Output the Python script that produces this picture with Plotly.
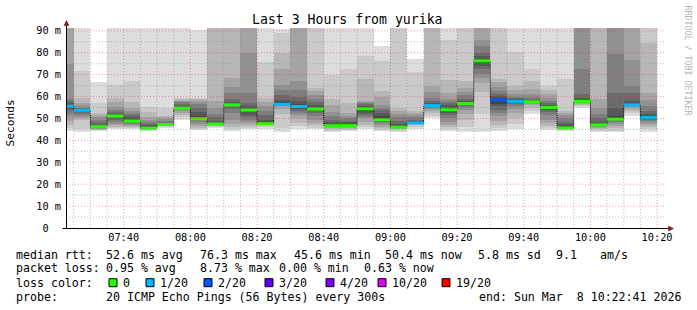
import plotly.graph_objects as go
import pandas as pd

DAY = "2026-03-08"
RANGE_START = "07:22:41"
RANGE_END = "10:22:41"

# start time of each 5-minute smoke bar
bar_start = ["07:20", "07:25", "07:30", "07:35", "07:40", "07:45", "07:50", "07:55",
             "08:00", "08:05", "08:10", "08:15", "08:20", "08:25", "08:30", "08:35",
             "08:40", "08:45", "08:50", "08:55", "09:00", "09:05", "09:10", "09:15",
             "09:20", "09:25", "09:30", "09:35", "09:40", "09:45", "09:50", "09:55",
             "10:00", "10:05", "10:10", "10:15"]

# 20 sorted ping round-trip times (ms) per bar
pings = [
    [44.5, 45.5, 47.0, 49.0, 50.5, 52.0, 53.5, 54.5, 55.2, 55.5, 55.7, 56.2, 57.0, 58.0, 59.0, 75.0, 95, 100, 105, 115],
    [44.0, 45.0, 49.5, 50.3, 50.8, 51.5, 52.3, 52.8, 53.3, 53.6, 53.8, 54.0, 54.3, 54.6, 55.0, 56.0, 57.2, 59.4, 71.6, 95],
    [44.3, 44.6, 44.9, 45.2, 45.4, 45.6, 45.8, 45.9, 46.0, 46.1, 46.3, 46.6, 47.2, 48.2, 49.5, 50.5, 51.5, 52.6, 57.2, 66.5],
    [45.3, 45.8, 46.3, 46.8, 47.3, 48.5, 49.5, 50.2, 50.7, 51.0, 51.2, 51.6, 52.2, 53.0, 54.0, 55.3, 57.5, 59.4, 65.4, 95],
    [45.0, 45.5, 46.0, 46.5, 47.0, 47.5, 48.0, 48.3, 48.6, 48.7, 48.9, 49.5, 50.5, 51.5, 52.5, 53.5, 55.0, 57.3, 67.0, 94],
    [44.3, 44.6, 44.9, 45.1, 45.2, 45.3, 45.4, 45.5, 45.55, 45.6, 45.65, 46.0, 46.8, 47.5, 48.3, 49.2, 50.5, 53.0, 55.3, 93],
    [45.8, 46.1, 46.4, 46.7, 46.9, 47.0, 47.1, 47.2, 47.25, 47.3, 47.35, 47.6, 48.0, 48.5, 49.0, 49.8, 50.5, 51.1, 54.6, 92],
    [49.5, 50.5, 51.5, 52.5, 53.2, 53.8, 54.2, 54.4, 54.6, 54.65, 54.75, 55.0, 55.5, 56.5, 57.3, 57.8, 58.2, 58.7, 59.2, 92],
    [44.8, 45.3, 45.8, 46.5, 47.5, 48.5, 49.2, 49.6, 49.8, 49.85, 49.95, 51.0, 53.0, 55.0, 56.5, 57.5, 58.3, 59.0, 59.5, 90.5],
    [45.5, 46.0, 46.5, 46.8, 47.0, 47.1, 47.15, 47.2, 47.25, 47.3, 47.35, 48.0, 49.0, 50.5, 52.0, 55.0, 58.0, 95, 100, 110],
    [44.5, 45.0, 46.0, 47.5, 49.5, 52.5, 54.5, 55.5, 56.0, 56.1, 56.3, 56.8, 57.5, 58.7, 61.5, 64.5, 68.6, 95, 105, 115],
    [45.0, 45.8, 46.5, 47.5, 48.5, 49.5, 50.5, 51.5, 53.0, 53.7, 53.9, 54.5, 55.5, 57.0, 61.7, 80.0, 95, 100, 105, 115],
    [45.0, 46.0, 46.8, 47.2, 47.4, 47.5, 47.55, 47.6, 47.6, 47.6, 47.65, 48.5, 49.5, 51.5, 53.5, 55.5, 57.5, 59.3, 76.0, 95],
    [44.0, 45.5, 52.0, 54.5, 55.5, 56.0, 56.2, 56.3, 56.4, 56.45, 56.55, 57.5, 58.5, 60.5, 63.0, 65.5, 72.5, 80.0, 89.0, 91.0],
    [45.0, 46.5, 48.0, 50.0, 51.5, 52.5, 53.5, 54.5, 55.2, 55.4, 55.6, 56.5, 58.0, 60.0, 63.0, 67.0, 95, 100, 105, 115],
    [45.0, 45.8, 46.8, 48.0, 49.5, 51.0, 52.5, 53.5, 54.0, 54.2, 54.4, 55.0, 56.0, 57.5, 59.0, 60.5, 62.5, 64.0, 95, 105],
    [44.0, 44.5, 45.0, 45.5, 46.0, 46.3, 46.5, 46.6, 46.65, 46.7, 46.75, 47.5, 48.5, 49.5, 51.0, 53.0, 56.0, 59.0, 70.0, 94],
    [44.3, 44.8, 45.3, 45.7, 46.0, 46.2, 46.4, 46.5, 46.6, 46.65, 46.75, 47.5, 48.3, 49.0, 50.0, 51.0, 52.5, 57.0, 72.4, 95],
    [45.0, 46.0, 47.0, 48.5, 50.0, 50.8, 51.5, 52.5, 53.5, 54.3, 54.6, 55.2, 55.8, 56.4, 57.0, 57.5, 57.9, 67.8, 78.4, 95],
    [44.2, 44.8, 45.5, 46.3, 47.0, 47.8, 48.5, 48.9, 49.1, 49.3, 49.5, 51.0, 52.5, 54.0, 55.0, 56.0, 60.0, 62.5, 76.1, 83.0],
    [44.0, 44.5, 45.0, 45.3, 45.6, 45.8, 45.9, 45.95, 46.0, 46.0, 46.05, 46.5, 47.5, 49.0, 50.5, 52.0, 53.5, 55.0, 95, 105],
    [45.0, 46.0, 47.0, 47.4, 47.6, 47.8, 47.9, 47.95, 48.0, 48.0, 48.05, 48.5, 49.0, 49.5, 50.5, 51.5, 52.5, 53.5, 71.0, 77.0],
    [50.0, 51.0, 52.5, 53.5, 54.5, 55.0, 55.4, 55.7, 55.9, 56.0, 56.2, 56.5, 57.0, 58.0, 59.5, 62.0, 64.7, 95, 105, 115],
    [44.3, 45.0, 46.0, 47.0, 48.5, 50.0, 51.5, 52.5, 53.3, 53.8, 54.2, 55.0, 56.0, 57.0, 58.0, 59.0, 61.5, 67.5, 86.0, 95],
    [44.0, 46.0, 49.5, 52.0, 54.0, 55.0, 55.8, 56.3, 56.6, 56.7, 56.9, 57.3, 58.0, 59.0, 60.5, 62.0, 64.0, 67.2, 95, 105],
    [44.0, 52.0, 62.0, 66.0, 68.5, 70.5, 72.5, 74.0, 75.2, 75.8, 76.2, 77.0, 78.5, 80.0, 83.0, 86.0, 95, 100, 105, 115],
    [44.5, 45.5, 47.0, 49.0, 51.0, 52.5, 54.0, 55.5, 56.8, 57.8, 58.8, 59.5, 60.3, 61.0, 62.5, 64.5, 66.5, 68.0, 95, 105],
    [45.0, 47.5, 50.0, 52.5, 54.5, 55.8, 56.6, 57.1, 57.5, 57.7, 57.9, 58.3, 58.8, 59.3, 60.0, 61.0, 63.0, 65.0, 80.5, 95],
    [52.0, 53.5, 55.0, 56.0, 56.8, 57.2, 57.4, 57.5, 57.55, 57.6, 57.65, 57.9, 58.3, 59.0, 60.0, 61.0, 63.5, 67.0, 72.5, 95],
    [44.8, 45.5, 46.5, 48.0, 49.5, 51.5, 53.0, 54.0, 54.6, 54.9, 55.1, 55.6, 56.3, 57.2, 58.2, 59.5, 61.0, 63.0, 64.7, 95],
    [44.3, 44.7, 45.0, 45.3, 45.5, 45.6, 45.65, 45.7, 45.7, 45.7, 45.75, 46.5, 47.5, 48.5, 50.0, 51.5, 52.5, 53.3, 67.8, 95],
    [55.0, 55.6, 56.2, 56.8, 57.2, 57.5, 57.6, 57.7, 57.75, 57.8, 57.85, 58.5, 59.3, 61.0, 72.6, 95, 100, 105, 110, 120],
    [44.0, 44.5, 45.2, 45.8, 46.3, 46.7, 46.9, 47.0, 47.05, 47.1, 47.15, 47.8, 48.5, 50.0, 52.0, 55.0, 58.7, 95, 105, 115],
    [44.0, 44.5, 45.5, 46.5, 47.5, 48.3, 48.8, 49.2, 49.5, 49.65, 49.75, 51.0, 55.0, 61.5, 79.5, 95, 100, 105, 110, 120],
    [51.0, 52.5, 53.5, 54.5, 55.2, 55.6, 55.9, 56.0, 56.1, 56.15, 56.25, 56.8, 58.0, 61.7, 65.0, 76.9, 95, 100, 105, 115],
    [44.0, 45.0, 46.0, 47.0, 48.0, 48.8, 49.4, 49.8, 50.1, 50.2, 50.4, 51.0, 52.0, 53.5, 55.5, 58.5, 61.5, 84.5, 95, 105],
]

# median rtt (ms) per bar
medians = [55.6, 53.7, 46.2, 51.1, 48.8, 45.6, 47.3, 54.7, 49.9, 47.5, 56.2, 53.8,
           47.6, 56.5, 55.5, 54.3, 46.7, 46.7, 54.4, 49.4, 46.0, 48.0, 55.9, 54.0,
           56.8, 76.3, 58.5, 57.8, 57.6, 55.0, 45.7, 57.8, 47.1, 49.7, 56.2, 50.4]

# lost pings (of 20) per bar
loss = [1, 1, 0, 0, 0, 0, 0, 0, 0, 0, 0, 0, 0, 1, 1, 0, 0, 0, 0, 0, 0, 1, 1, 0,
        0, 0, 2, 1, 0, 0, 0, 0, 0, 0, 1, 1]

loss_levels = [0, 1, 2, 3, 4, 10, 19]
loss_labels = ["0", "1/20", "2/20", "3/20", "4/20", "10/20", "19/20"]
loss_colors = ["#26ff00", "#00b8ff", "#0059ff", "#5e00ff", "#7e00ff", "#dd00ff", "#ff0000"]

x_tick_labels = ["07:40", "08:00", "08:20", "08:40", "09:00", "09:20", "09:40", "10:00", "10:20"]
y_tick_values = [0, 10, 20, 30, 40, 50, 60, 70, 80, 90]
y_tick_labels = [" 0  ", "10 m", "20 m", "30 m", "40 m", "50 m", "60 m", "70 m", "80 m", "90 m"]

title = "Last 3 Hours from yurika"
rtt_stats = ["52.6 ms avg", "76.3 ms max", "45.6 ms min", "50.4 ms now", "5.8 ms sd", "9.1", "am/s"]
loss_stats = ["0.95 % avg", "8.73 % max", "0.00 % min", "0.63 % now"]
probe_text = "20 ICMP Echo Pings (56 Bytes) every 300s"
end_text = "end: Sun Mar  8 10:22:41 2026"

# ---------------- layout geometry ----------------
W, H = 697, 310
L, R, T, B = 66, 31, 28, 82
PW, PH = W - L - R, H - T - B
YMAX = 91.3
MONO = "DejaVu Sans Mono"


def px(x):
    return (x - L) / PW


def py(y):
    return (H - B - y) / PH


def nb(s):
    return s.replace(" ", "\u00a0")


starts = pd.to_datetime([f"{DAY} {t}" for t in bar_start])
step = pd.Timedelta(minutes=5)
centers = starts + step / 2
ends = starts + step

fig = go.Figure()

# smoke: layer k spans ping[k] .. ping[19-k], darker toward the middle
for k in range(10):
    g = 221 - 19 * k
    lo = [p[k] for p in pings]
    hi = [p[19 - k] for p in pings]
    fig.add_trace(go.Bar(
        x=centers, base=lo, y=[h - l for h, l in zip(hi, lo)],
        width=300000, marker=dict(color=f"rgb({g},{g},{g})", line=dict(width=0)),
        hoverinfo="skip", showlegend=False))

# median step line (black, visible at transitions)
fig.add_trace(go.Scatter(
    x=list(starts) + [ends[-1]], y=medians + [medians[-1]], mode="lines",
    line=dict(color="black", width=1, shape="hv", dash="1px,1px"),
    hoverinfo="skip", showlegend=False))


def loss_color(n):
    c = loss_colors[0]
    for lv, col in zip(loss_levels, loss_colors):
        if n >= lv:
            c = col
    return c


for col in loss_colors:
    xs, ys = [], []
    for s, e, m, n in zip(starts, ends, medians, loss):
        if loss_color(n) == col:
            xs += [s, e, None]
            ys += [m, m, None]
    if xs:
        fig.add_trace(go.Scatter(x=xs, y=ys, mode="lines",
                                 line=dict(color=col, width=3),
                                 hoverinfo="skip", showlegend=False))

shapes = []
MINOR = "rgba(140,140,140,0.55)"
MAJOR = "rgba(230,40,40,0.45)"
for t in pd.date_range(f"{DAY} 07:25", f"{DAY} 10:20", freq="5min"):
    major = t.minute % 20 == 0
    shapes.append(dict(type="line", xref="x", yref="paper", x0=t, x1=t, y0=0, y1=1,
                       line=dict(color=MAJOR if major else MINOR, width=1, dash="1px,2px"),
                       layer="above"))
for v in range(5, 91, 5):
    major = v % 10 == 0
    shapes.append(dict(type="line", xref="paper", yref="y", x0=0, x1=1, y0=v, y1=v,
                       line=dict(color=MAJOR if major else MINOR, width=1, dash="1px,2px"),
                       layer="above"))

# axis lines and arrows
shapes.append(dict(type="line", xref="paper", yref="paper", x0=px(66.5), x1=px(66.5),
                   y0=py(228.5), y1=py(24), line=dict(color="black", width=1), layer="above"))
shapes.append(dict(type="line", xref="paper", yref="paper", x0=px(62.5), x1=px(670),
                   y0=py(228.5), y1=py(228.5), line=dict(color="black", width=1), layer="above"))
ARROW = "#7f1f1f"
shapes.append(dict(type="path", xref="paper", yref="paper",
                   path=f"M {px(64)} {py(25.5)} L {px(69)} {py(25.5)} L {px(66.5)} {py(20.5)} Z",
                   fillcolor=ARROW, line=dict(color=ARROW, width=0.5), layer="above"))
shapes.append(dict(type="path", xref="paper", yref="paper",
                   path=f"M {px(668.5)} {py(226)} L {px(668.5)} {py(231)} L {px(673.5)} {py(228.5)} Z",
                   fillcolor=ARROW, line=dict(color=ARROW, width=0.5), layer="above"))

annotations = []


def text(x, y, s, size=11.6, anchor="left", color="black", angle=0, family=MONO):
    annotations.append(dict(x=px(x), y=py(y), xref="paper", yref="paper", text=nb(s),
                            showarrow=False, xanchor=anchor, yanchor="middle",
                            font=dict(family=family, size=size, color=color),
                            textangle=angle, borderpad=0, borderwidth=0))


text(347.8, 19.3, title, size=13.2, anchor="center")
text(9.5, 123, "Seconds", size=11.2, anchor="center", angle=-90)
text(687.5, 60, "RRDTOOL / TOBI OETIKER", size=8.3, anchor="center", color="#b4b4b4", angle=90)

# legend rows
text(15.5, 255, "median rtt:")
for s, x in zip(rtt_stats, [106.3, 200, 294, 385.3, 477.5, 556, 599.5]):
    text(x, 255, s)
text(15.5, 268.3, "packet loss:")
for s, x in zip(loss_stats, [106.3, 200, 279, 364]):
    text(x, 268.3, s)
text(15.5, 282.7, "loss color:")
for lab, col, bx in zip(loss_labels, loss_colors, [109, 146, 204, 265, 326, 378, 442]):
    shapes.append(dict(type="rect", xref="paper", yref="paper",
                       x0=px(bx), x1=px(bx + 8), y0=py(278.7), y1=py(286.7),
                       fillcolor=col, line=dict(color="black", width=1)))
    text(bx + 13.5, 282.7, lab)
text(15.5, 296.7, "probe:")
text(106.3, 296.7, probe_text)
text(478.5, 296.7, end_text)

fig.update_layout(
    width=W, height=H, margin=dict(l=L, r=R, t=T, b=B, autoexpand=False),
    paper_bgcolor="white", plot_bgcolor="white",
    barmode="overlay", bargap=0, showlegend=False,
    shapes=shapes, annotations=annotations,
    xaxis=dict(type="date", range=[f"{DAY} {RANGE_START}", f"{DAY} {RANGE_END}"],
               tickmode="array",
               tickvals=[pd.Timestamp(f"{DAY} {t}") for t in x_tick_labels],
               ticktext=x_tick_labels, showgrid=False, zeroline=False, showline=False,
               ticks="", tickfont=dict(family=MONO, size=10.3, color="black"),
               ticklabelstandoff=2, fixedrange=True),
    yaxis=dict(range=[0, YMAX], tickmode="array", tickvals=y_tick_values,
               ticktext=[nb(s) for s in y_tick_labels], showgrid=False, zeroline=False,
               showline=False, ticks="", tickfont=dict(family=MONO, size=10.3, color="black"),
               ticklabelstandoff=4, fixedrange=True),
)

fig.write_html("out.html", config={"displayModeBar": False})
